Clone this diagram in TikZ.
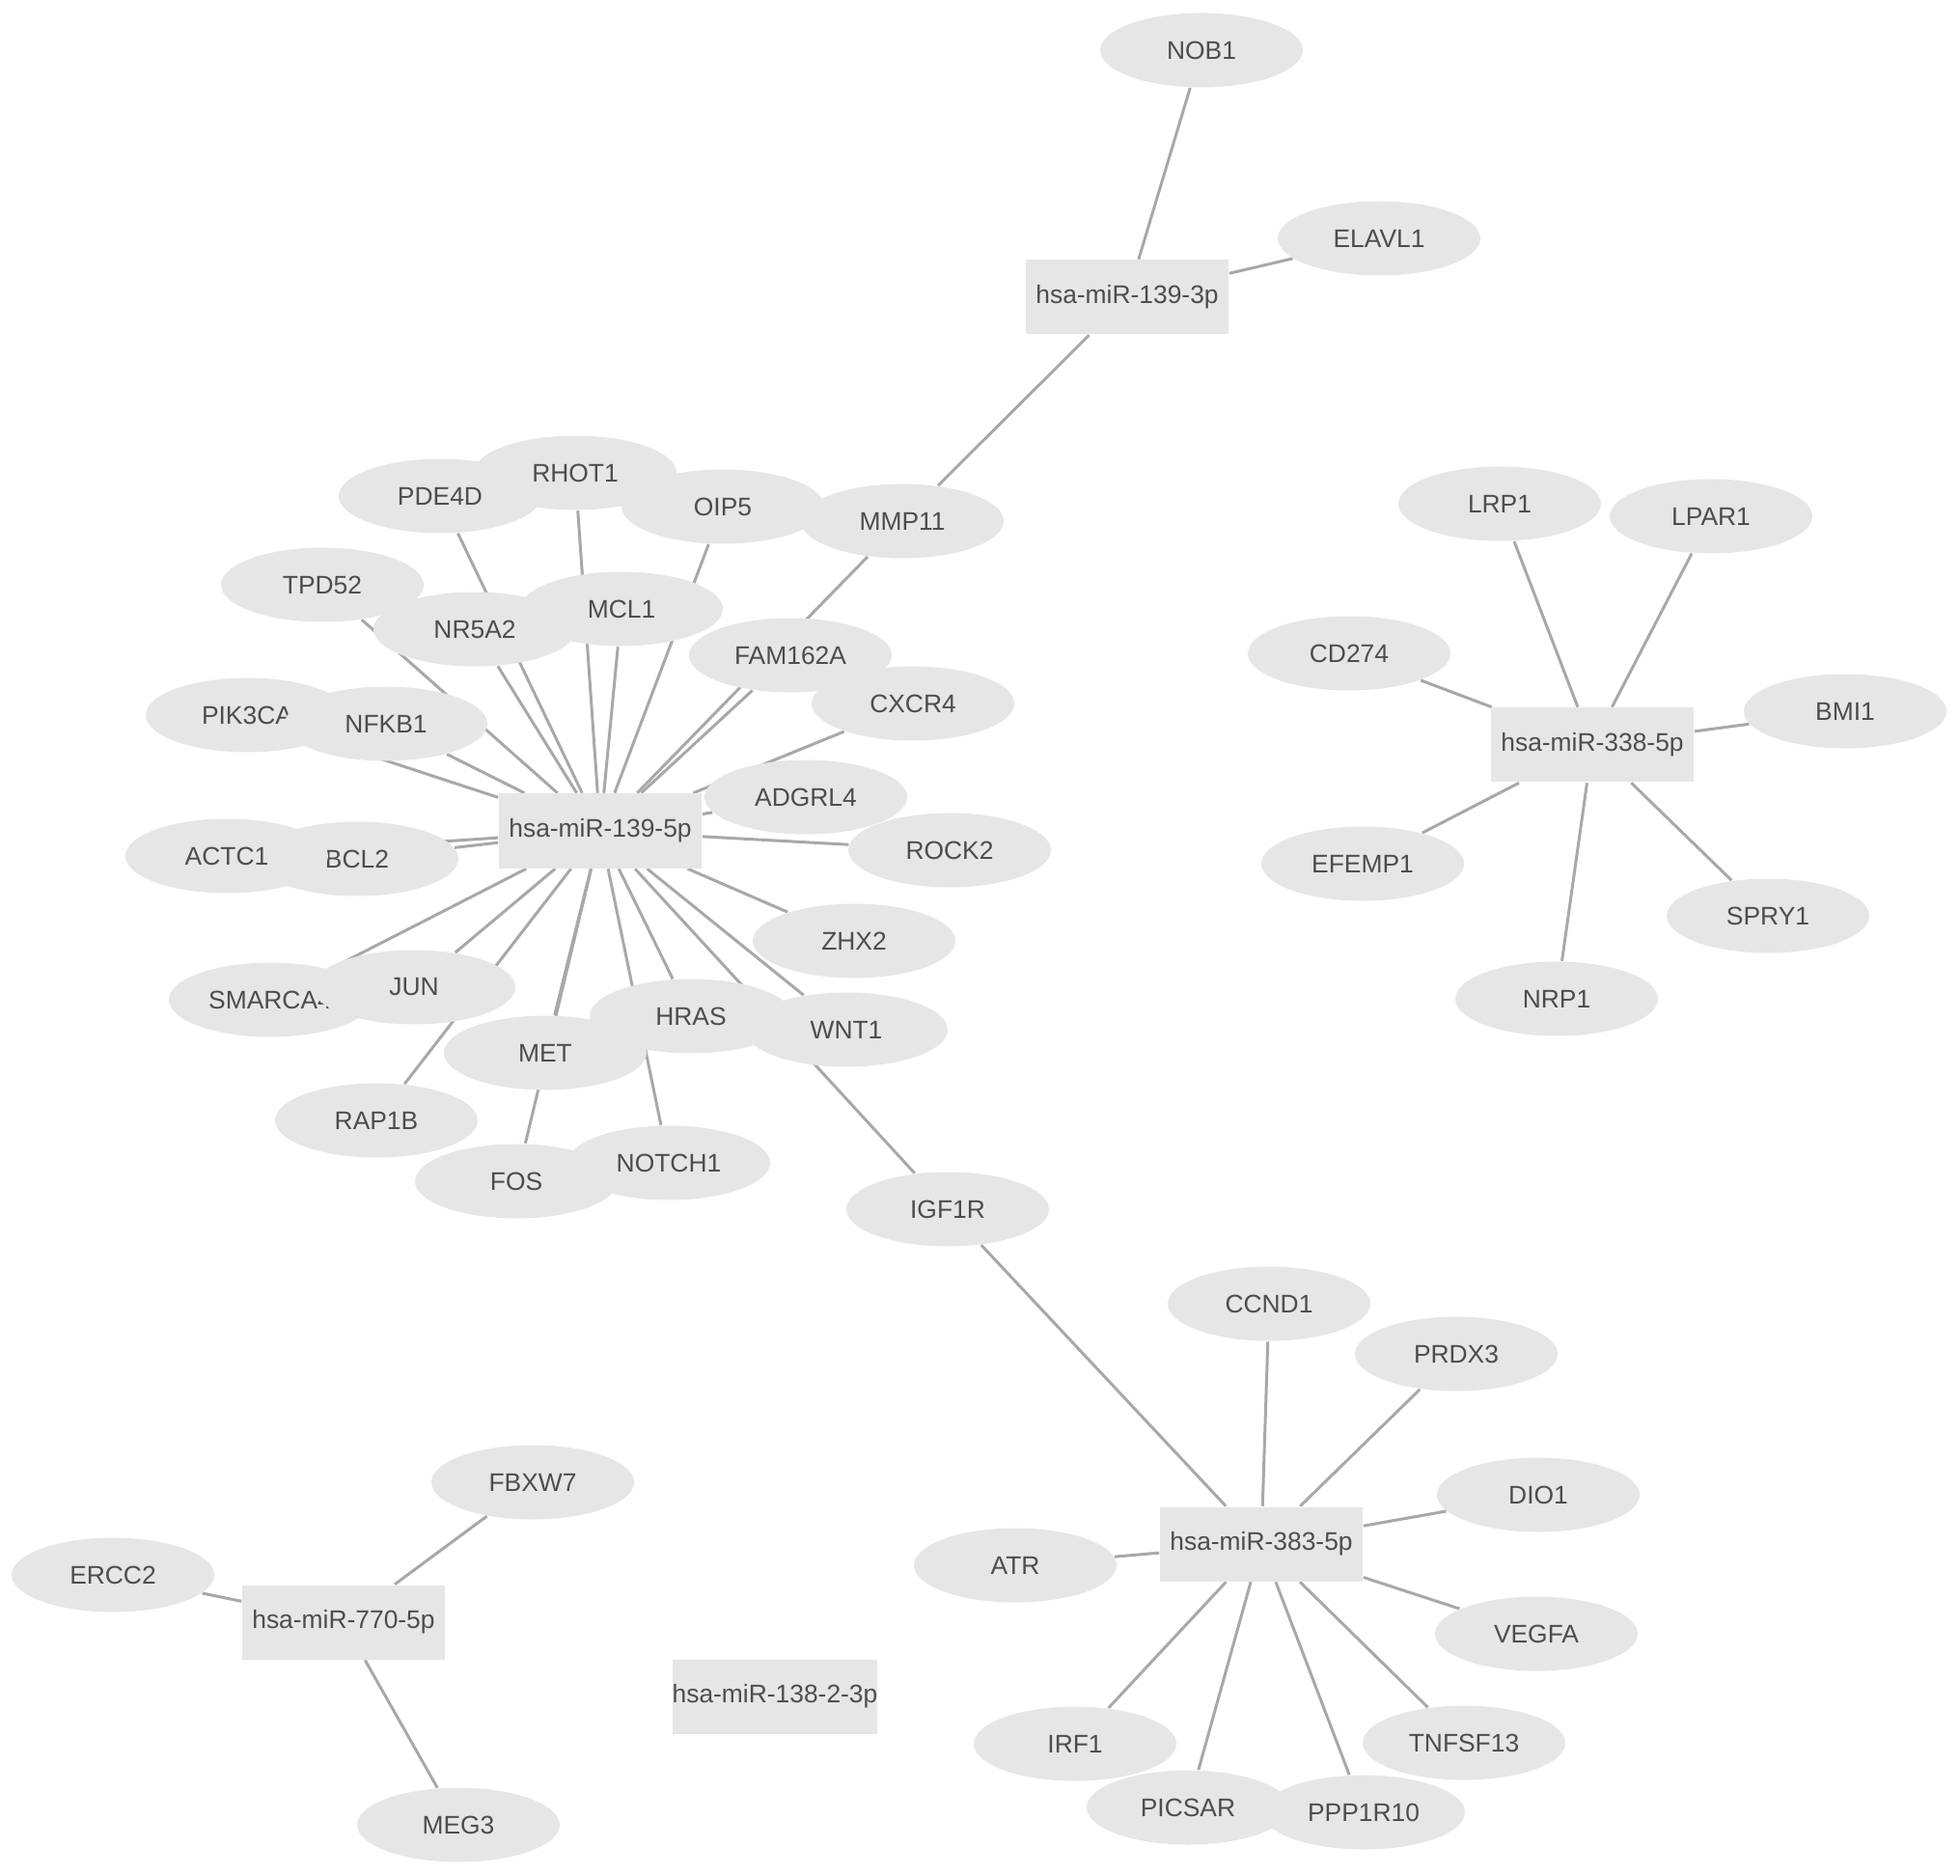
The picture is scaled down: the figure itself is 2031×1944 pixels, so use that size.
\documentclass[tikz,border=0pt]{standalone}
\usepackage{fontspec}
\setmainfont{Liberation Sans}
\usetikzlibrary{shapes.geometric,backgrounds}

\definecolor{nodegray}{HTML}{E6E6E6}
\definecolor{textgray}{HTML}{4D4D4D}
\definecolor{edgegray}{HTML}{A8A8A8}

\begin{document}
\begin{tikzpicture}[x=0.25pt, y=-0.25pt,
    gene/.style={ellipse, fill=nodegray, minimum width=52.5pt, minimum height=19.25pt,
        inner sep=0pt, text=textgray, font=\fontsize{6.6}{7}\selectfont},
    mirna/.style={rectangle, fill=nodegray, minimum width=52.5pt, minimum height=19.25pt,
        inner sep=0pt, text=textgray, font=\fontsize{6.6}{7}\selectfont},
    edge/.style={draw=edgegray, line width=0.75pt}]

    % 描画範囲
    \useasboundingbox (0,0) rectangle (2031,1944);

    % miRNA ノード
    \node[mirna] (mir1393p) at (1168,308) {hsa-miR-139-3p};
    \node[mirna] (mir1395p) at (622,861) {hsa-miR-139-5p};
    \node[mirna] (mir3385p) at (1650,772) {hsa-miR-338-5p};
    \node[mirna] (mir3835p) at (1307,1600) {hsa-miR-383-5p};
    \node[mirna] (mir7705p) at (356,1681) {hsa-miR-770-5p};
    \node[mirna] (mir13823p) at (803,1758) {hsa-miR-138-2-3p};

    % 遺伝子ノード (上)
    \node[gene] (NOB1) at (1245,52) {NOB1};
    \node[gene] (ELAVL1) at (1429,247) {ELAVL1};

    % 遺伝子ノード (hsa-miR-139-5p の周り)
    \node[gene] (PDE4D) at (456,514) {PDE4D};
    \node[gene] (RHOT1) at (596,490) {RHOT1};
    \node[gene] (OIP5) at (749,525) {OIP5};
    \node[gene] (MMP11) at (935,540) {MMP11};
    \node[gene] (TPD52) at (334,606) {TPD52};
    \node[gene] (NR5A2) at (492,652) {NR5A2};
    \node[gene] (MCL1) at (644,631) {MCL1};
    \node[gene] (FAM162A) at (819,679) {FAM162A};
    \node[gene] (CXCR4) at (946,729) {CXCR4};
    \node[gene] (PIK3CA) at (256,741) {PIK3CA};
    \node[gene] (NFKB1) at (400,750) {NFKB1};
    \node[gene] (ADGRL4) at (835,826) {ADGRL4};
    \node[gene] (ROCK2) at (984,881) {ROCK2};
    \node[gene] (BCL2) at (370,890) {BCL2};
    \node[gene] (ACTC1) at (235,887) {ACTC1};
    \node[gene] (ZHX2) at (885,975) {ZHX2};
    \node[gene] (SMARCA4) at (280,1036) {SMARCA4};
    \node[gene] (JUN) at (429,1023) {JUN};
    \node[gene] (HRAS) at (716,1053) {HRAS};
    \node[gene] (MET) at (565,1091) {MET};
    \node[gene] (WNT1) at (877,1067) {WNT1};
    \node[gene] (RAP1B) at (390,1161) {RAP1B};
    \node[gene] (FOS) at (535,1224) {FOS};
    \node[gene] (NOTCH1) at (693,1205) {NOTCH1};
    \node[gene] (IGF1R) at (982,1253) {IGF1R};

    % 遺伝子ノード (hsa-miR-338-5p の周り)
    \node[gene] (LRP1) at (1554,522) {LRP1};
    \node[gene] (LPAR1) at (1773,535) {LPAR1};
    \node[gene] (CD274) at (1398,677) {CD274};
    \node[gene] (BMI1) at (1912,737) {BMI1};
    \node[gene] (EFEMP1) at (1412,895) {EFEMP1};
    \node[gene] (SPRY1) at (1832,949) {SPRY1};
    \node[gene] (NRP1) at (1613,1035) {NRP1};

    % 遺伝子ノード (hsa-miR-383-5p の周り)
    \node[gene] (CCND1) at (1315,1351) {CCND1};
    \node[gene] (PRDX3) at (1509,1403) {PRDX3};
    \node[gene] (DIO1) at (1594,1549) {DIO1};
    \node[gene] (ATR) at (1052,1622) {ATR};
    \node[gene] (VEGFA) at (1592,1693) {VEGFA};
    \node[gene] (TNFSF13) at (1517,1806) {TNFSF13};
    \node[gene] (IRF1) at (1114,1807) {IRF1};
    \node[gene] (PICSAR) at (1231,1873) {PICSAR};
    \node[gene] (PPP1R10) at (1413,1878) {PPP1R10};

    % 遺伝子ノード (hsa-miR-770-5p の周り)
    \node[gene] (FBXW7) at (552,1536) {FBXW7};
    \node[gene] (ERCC2) at (117,1632) {ERCC2};
    \node[gene] (MEG3) at (475,1891) {MEG3};

    % 辺 (ノードの後ろ)
    \begin{scope}[on background layer]
        \foreach \g in {NOB1,ELAVL1,MMP11} \draw[edge] (mir1393p) -- (\g);
        \foreach \g in {PDE4D,RHOT1,OIP5,MMP11,TPD52,NR5A2,MCL1,FAM162A,CXCR4,
            PIK3CA,NFKB1,ADGRL4,ROCK2,ACTC1,BCL2,ZHX2,SMARCA4,JUN,HRAS,MET,
            WNT1,RAP1B,FOS,NOTCH1,IGF1R} \draw[edge] (mir1395p) -- (\g);
        \foreach \g in {LRP1,LPAR1,CD274,BMI1,EFEMP1,SPRY1,NRP1} \draw[edge] (mir3385p) -- (\g);
        \foreach \g in {CCND1,PRDX3,DIO1,ATR,VEGFA,TNFSF13,IRF1,PICSAR,PPP1R10,IGF1R}
            \draw[edge] (mir3835p) -- (\g);
        \foreach \g in {FBXW7,ERCC2,MEG3} \draw[edge] (mir7705p) -- (\g);
    \end{scope}

\end{tikzpicture}
\end{document}
